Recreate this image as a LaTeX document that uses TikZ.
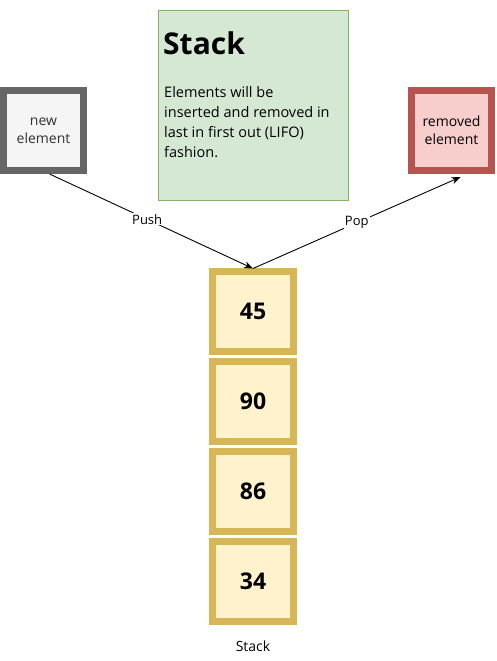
\documentclass[tikz,border=0pt]{standalone}
\usepackage{fontspec}
\setmainfont{Open Sans}
\usetikzlibrary{arrows.meta, positioning}

\definecolor{notefill}{HTML}{D5E8D4}
\definecolor{notedraw}{HTML}{82B366}
\definecolor{newfill}{HTML}{F5F5F5}
\definecolor{newdraw}{HTML}{666666}
\definecolor{newtext}{HTML}{333333}
\definecolor{remfill}{HTML}{F8CECC}
\definecolor{remdraw}{HTML}{B85450}
\definecolor{cellfill}{HTML}{FFF2CC}
\definecolor{celldraw}{HTML}{D6B656}

\tikzset{
  elem/.style={draw, line width=7pt, minimum width=80pt, minimum height=80pt,
    align=center, font=\fontsize{14}{18}\selectfont},
  cell/.style={draw=celldraw, fill=cellfill, line width=7pt, minimum width=81pt,
    minimum height=80pt, font=\fontsize{23}{26}\selectfont\bfseries},
  oplabel/.style={fill=white, inner sep=1pt, font=\fontsize{13}{15}\selectfont},
  oparrow/.style={line width=0.9pt, -{Stealth[length=9pt, width=7pt]}},
}

\begin{document}
\begin{tikzpicture}[x=1pt, y=-1pt]
    \useasboundingbox (0,0) rectangle (497,661);
    % note box
    \draw[notedraw, fill=notefill] (158.5,10.5) rectangle (348.5,200.5);
    \node[anchor=base west, inner sep=0pt, font=\fontsize{30}{34}\selectfont\bfseries] (title) at (163,55) {Stack};
    \node[anchor=north west, inner sep=0pt, align=left, font=\fontsize{14.5}{20}\selectfont] (desc) at (164,86)
      {Elements will be\\inserted and removed in\\last in first out (LIFO)\\fashion.};
    % side elements
    \node[elem, draw=newdraw, fill=newfill, text=newtext] (newel) at (43.5,130.5) {new\\element};
    \node[elem, draw=remdraw, fill=remfill] (remel) at (451.5,130.5) {removed\\element};
    % the stack
    \node[cell] (c1) at (253,311) {45};
    \node[cell] (c2) at (253,401) {90};
    \node[cell] (c3) at (253,491) {86};
    \node[cell] (c4) at (253,581) {34};
    \node[font=\fontsize{14}{16}\selectfont] (caption) at (253,646) {Stack};
    % push and pop
    \coordinate (pushstart) at ([xshift=6pt]newel.south);
    \coordinate (popend) at ([xshift=9pt, yshift=-3pt]remel.south);
    \draw[oparrow] (pushstart) -- node[oplabel, pos=0.48] {Push} ([yshift=-1pt]c1.north);
    \draw[oparrow] ([yshift=-1pt]c1.north) -- node[oplabel, pos=0.5] {Pop} (popend);
\end{tikzpicture}
\end{document}
